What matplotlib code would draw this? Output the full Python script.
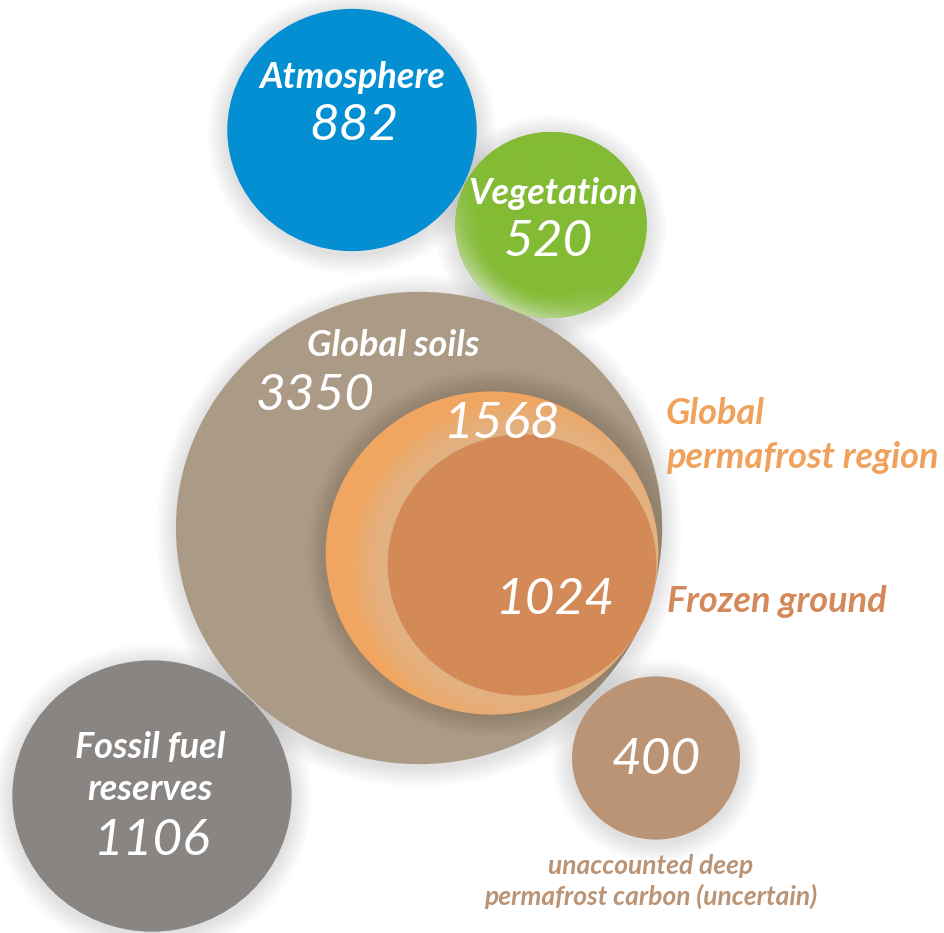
import matplotlib
matplotlib.use("Agg")
import matplotlib.pyplot as plt
from matplotlib.patches import Ellipse
from matplotlib.colors import to_rgb
import numpy as np

# ---- data ----
names = ["Atmosphere", "Vegetation", "Global soils", "Global permafrost region",
         "Frozen ground", "Fossil fuel reserves", "Deep permafrost"]
values = [882, 520, 3350, 1568, 1024, 1106, 400]
value_labels = ["882", "520", "3350", "1568", "1024", "1106", "400"]

# ---- layout / style ----
centers = [(352, 130), (551, 225), (419, 528), (492, 553), (522, 565), (152, 796), (656, 758)]
colors = ["#048FD2", "#83BB35", "#AB9A85", "#F0A560", "#D38A57", "#898583", "#BA9475"]
KX, KY = 4.2, 4.08

W, H = 945, 933
fig = plt.figure(figsize=(W / 100, H / 100), dpi=100)
ax = fig.add_axes([0, 0, 1, 1])
ax.set_xlim(0, W)
ax.set_ylim(H, 0)
ax.axis("off")

FONT = ["Lato", "DejaVu Sans"]


def glow(c, v, color, n=10, step=2.0, alpha=0.02, dx=0, dy=3, z=1, clip=None):
    rx, ry = KX * np.sqrt(v), KY * np.sqrt(v)
    for i in range(n, 0, -1):
        p = Ellipse((c[0] + dx, c[1] + dy), 2 * (rx + i * step), 2 * (ry + i * step),
                    facecolor=color, edgecolor="none", alpha=alpha, zorder=z)
        ax.add_patch(p)
        if clip is not None:
            p.set_clip_path(clip)


def circle(c, v, color, z):
    rx, ry = KX * np.sqrt(v), KY * np.sqrt(v)
    e = Ellipse(c, 2 * rx, 2 * ry, facecolor=color, edgecolor="none", zorder=z)
    ax.add_patch(e)
    return e


# outer circles with soft shadows
for i in [0, 1, 2, 5, 6]:
    glow(centers[i], values[i], "#666666", z=1)
patches = {}
for i in [0, 1, 2, 5, 6]:
    patches[i] = circle(centers[i], values[i], colors[i], 2)

# vegetation highlight: lighter toward the lower-left rim
vc, vv = centers[1], values[1]
rx, ry = KX * np.sqrt(vv), KY * np.sqrt(vv)
xs = np.linspace(vc[0] - rx, vc[0] + rx, 200)
ys = np.linspace(vc[1] - ry, vc[1] + ry, 200)
X, Y = np.meshgrid(xs, ys)
dist = np.sqrt(((X - vc[0]) / rx) ** 2 + ((Y - vc[1]) / ry) ** 2)
ang = np.arctan2(Y - vc[1], X - vc[0])
dirw = np.clip(np.cos(ang - np.deg2rad(125)), 0, 1) ** 1.5
edge = np.clip((dist - 0.72) / 0.28, 0, 1) ** 1.5
t = (dirw * edge * 0.75)[..., None]
g0 = np.array(to_rgb(colors[1]))
g1 = np.array(to_rgb("#D8E4C8"))
img = g0 * (1 - t) + g1 * t
im = ax.imshow(img, extent=(vc[0] - rx, vc[0] + rx, vc[1] + ry, vc[1] - ry), zorder=2.5,
               interpolation="bilinear")
im.set_clip_path(patches[1])
ax.set_xlim(0, W)
ax.set_ylim(H, 0)
ax.set_aspect("auto")

# permafrost region: inner shadow on soils
glow(centers[3], values[3], "#6a5a48", n=9, step=2.4, alpha=0.045, dx=3, dy=0, z=3,
     clip=patches[2])
perm = circle(centers[3], values[3], colors[3], 4)
# frozen ground halo (kept inside the permafrost circle)
glow(centers[4], values[4], "#E0BC98", n=10, step=3.4, alpha=0.1, dx=-3, dy=0, z=5, clip=perm)
circle(centers[4], values[4], colors[4], 6)

white = "white"
NUM = 37
LAB = 26
# texts inside circles
ax.text(352, 78, "Atmosphere", ha="center", va="center", color=white, fontsize=LAB,
        fontweight="bold", style="italic", family=FONT, zorder=10)
ax.text(354, 126, value_labels[0], ha="center", va="center", color=white, fontsize=NUM,
        style="italic", family=FONT, zorder=10)
ax.text(553, 194, "Vegetation", ha="center", va="center", color=white, fontsize=LAB,
        fontweight="bold", style="italic", family=FONT, zorder=10)
ax.text(548, 242, value_labels[1], ha="center", va="center", color=white, fontsize=NUM,
        style="italic", family=FONT, zorder=10)
ax.text(393, 345, "Global soils", ha="center", va="center", color=white, fontsize=LAB,
        fontweight="bold", style="italic", family=FONT, zorder=10)
ax.text(315, 396, value_labels[2], ha="center", va="center", color=white, fontsize=NUM,
        style="italic", family=FONT, zorder=10)
ax.text(502, 424, value_labels[3], ha="center", va="center", color=white, fontsize=NUM,
        style="italic", family=FONT, zorder=10)
ax.text(555, 600, value_labels[4], ha="center", va="center", color=white, fontsize=NUM,
        style="italic", family=FONT, zorder=10)
ax.text(150, 747, "Fossil fuel", ha="center", va="center", color=white, fontsize=LAB,
        fontweight="bold", style="italic", family=FONT, zorder=10)
ax.text(150, 790, "reserves", ha="center", va="center", color=white, fontsize=LAB,
        fontweight="bold", style="italic", family=FONT, zorder=10)
ax.text(152, 841, value_labels[5], ha="center", va="center", color=white, fontsize=NUM,
        style="italic", family=FONT, zorder=10)
ax.text(656, 760, value_labels[6], ha="center", va="center", color=white, fontsize=NUM,
        style="italic", family=FONT, zorder=10)

# outside labels
ax.text(666, 413, "Global", ha="left", va="center", color="#F0A25C", fontsize=LAB,
        fontweight="bold", style="italic", family=FONT, zorder=10)
ax.text(666, 457, "permafrost region", ha="left", va="center", color="#F0A25C", fontsize=LAB,
        fontweight="bold", style="italic", family=FONT, zorder=10)
ax.text(667, 601, "Frozen ground", ha="left", va="center", color="#D4895A", fontsize=LAB,
        fontweight="bold", style="italic", family=FONT, zorder=10)
ax.text(651, 866, "unaccounted deep", ha="center", va="center", color="#BB9475", fontsize=19,
        fontweight="bold", style="italic", family=FONT, zorder=10)
ax.text(651, 896, "permafrost carbon (uncertain)", ha="center", va="center", color="#BB9475",
        fontsize=19, fontweight="bold", style="italic", family=FONT, zorder=10)

fig.savefig("out.png", dpi=100, facecolor="white")
